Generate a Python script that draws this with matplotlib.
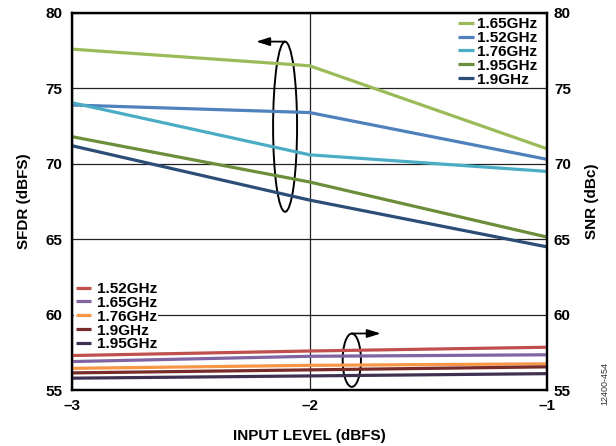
import matplotlib.pyplot as plt
from matplotlib.patches import Ellipse

plt.rcParams['font.family'] = ['Liberation Sans', 'DejaVu Sans']
plt.rcParams['font.weight'] = 'bold'
plt.rcParams['axes.labelweight'] = 'bold'

x = [-3, -2, -1]

# SFDR (left axis)
sfdr_labels = ['1.65GHz', '1.52GHz', '1.76GHz', '1.95GHz', '1.9GHz']
sfdr_165 = [77.6, 76.5, 71.0]
sfdr_152 = [73.9, 73.4, 70.3]
sfdr_176 = [74.05, 70.6, 69.5]
sfdr_195 = [71.8, 68.8, 65.15]
sfdr_19 = [71.2, 67.6, 64.5]
sfdr_colors = ['#9BBB59', '#4F81BD', '#4BACC6', '#6B8E3A', '#2C4D75']

# SNR (right axis)
snr_labels = ['1.52GHz', '1.65GHz', '1.76GHz', '1.9GHz', '1.95GHz']
snr_152 = [57.3, 57.6, 57.85]
snr_165 = [56.9, 57.25, 57.35]
snr_176 = [56.45, 56.65, 56.75]
snr_19 = [56.15, 56.35, 56.55]
snr_195 = [55.8, 55.95, 56.1]
snr_colors = ['#C0504D', '#8064A2', '#F79646', '#772C2A', '#403152']

fig = plt.figure(figsize=(6.16, 4.46), dpi=100)
ax = fig.add_axes([0.117, 0.125, 0.771, 0.846])
ax2 = ax.twinx()

for ys, lab, c in zip([sfdr_165, sfdr_152, sfdr_176, sfdr_195, sfdr_19], sfdr_labels, sfdr_colors):
    ax.plot(x, ys, color=c, lw=2.3, label=lab, solid_capstyle='butt')

for ys, lab, c in zip([snr_152, snr_165, snr_176, snr_19, snr_195], snr_labels, snr_colors):
    ax2.plot(x, ys, color=c, lw=2.3, label=lab, solid_capstyle='butt')

for a in (ax, ax2):
    a.set_xlim(-3, -1)
    a.set_ylim(55, 80)
    a.set_yticks([55, 60, 65, 70, 75, 80])
    a.tick_params(length=0, labelsize=11)
    for s in a.spines.values():
        s.set_linewidth(1.6)
        s.set_color('black')
ax.tick_params(axis='y', pad=7)
ax.tick_params(axis='x', pad=6)
ax2.tick_params(axis='y', pad=5)

ax.set_xticks([-3, -2, -1])
ax.set_xticklabels(['\u20133', '\u20132', '\u20131'])
ax.grid(True, color='#222222', lw=0.9)
ax.set_axisbelow(True)

ax.set_xlabel('INPUT LEVEL (dBFS)', fontsize=11, labelpad=12)
ax.set_ylabel('SFDR (dBFS)', fontsize=11, labelpad=10)
ax2.set_ylabel('SNR (dBc)', fontsize=11, labelpad=10)

leg1 = ax.legend(loc='upper right', bbox_to_anchor=(0.985, 0.997), frameon=False, fontsize=11,
                 labelspacing=-0.01, handlelength=1.0, handletextpad=0.2, borderaxespad=0.1,
                 borderpad=0.1)
leg2 = ax2.legend(loc='upper left', bbox_to_anchor=(0.005, 0.291), frameon=True, fontsize=11,
                  labelspacing=-0.01, handlelength=1.0, handletextpad=0.35, borderaxespad=0.0,
                  fancybox=False, edgecolor='none', framealpha=1.0, borderpad=0.1)
leg2.set_zorder(1)

# ellipse + arrow markers
ax.add_patch(Ellipse((-2.103, 72.46), 0.101, 11.27, fill=False, ec='black', lw=1.4))
ax.annotate('', xy=(-2.225, 78.1), xytext=(-2.103, 78.1),
            arrowprops=dict(arrowstyle='-|>,head_length=0.8,head_width=0.25', color='black', lw=1.3,
                            shrinkA=0, shrinkB=0))
ax2.add_patch(Ellipse((-1.822, 56.99), 0.077, 3.53, fill=False, ec='black', lw=1.4))
ax2.annotate('', xy=(-1.70, 58.76), xytext=(-1.822, 58.76),
             arrowprops=dict(arrowstyle='-|>,head_length=0.8,head_width=0.25', color='black', lw=1.3,
                             shrinkA=0, shrinkB=0))

fig.text(0.982, 0.14, '12400-454', rotation=90, fontsize=6.5, fontweight='normal',
         color='#333333', ha='center', va='center')

fig.savefig('out.png', dpi=100)
